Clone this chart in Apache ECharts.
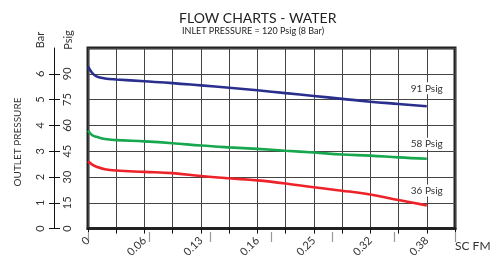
<!DOCTYPE html>
<html>
<head>
<meta charset="utf-8">
<script src="https://cdn.jsdelivr.net/npm/echarts@6/dist/echarts.min.js"></script>
<style>html,body{margin:0;padding:0;background:#fff}#c{width:495px;height:260px}</style>
</head>
<body>
<div id="c"></div>
<script>
// Flow positions along the x scale (grid steps); labelled every 2 steps
const xPositions = [0, 0.15, 0.3, 0.6, 1, 2, 3, 4, 5, 6, 7, 8, 9, 10, 11, 12];
const xTickLabels = ['0', '0.06', '0.13', '0.16', '0.25', '0.32', '0.38'];
// Outlet pressure in Bar
const psig91 = [6.29, 6.03, 5.90, 5.82, 5.78, 5.71, 5.64, 5.55, 5.46, 5.36, 5.25, 5.14, 5.03, 4.92, 4.83, 4.74];
const psig58 = [3.79, 3.62, 3.56, 3.47, 3.43, 3.38, 3.31, 3.22, 3.15, 3.09, 3.02, 2.95, 2.87, 2.83, 2.76, 2.71];
const psig36 = [2.61, 2.48, 2.40, 2.30, 2.25, 2.20, 2.15, 2.04, 1.95, 1.87, 1.75, 1.60, 1.47, 1.32, 1.11, 0.90];
const seriesNames = ['91 Psig', '58 Psig', '36 Psig'];

const FONT = 'Lato';
const chart = echarts.init(document.getElementById('c'));

function mk(name, vals, color, labelDist) {
  return {
    type: 'line', name: name, xAxisIndex: 0, yAxisIndex: 0,
    smooth: 0.4, showSymbol: false, lineStyle: {color: color, width: 2.6},
    data: xPositions.map((x, i) => [x, vals[i]]),
    markPoint: {
      symbol: 'rect', symbolSize: 0,
      label: {show: true, position: 'top', distance: labelDist, formatter: name,
        color: '#333', fontFamily: FONT, fontSize: 10, backgroundColor: '#fff', padding: [1, 1]},
      data: [{coord: [xPositions[xPositions.length - 1], vals[vals.length - 1]]}]
    },
    z: 5
  };
}

chart.setOption({
  animation: false,
  title: [
    {text: 'FLOW CHARTS - WATER', left: 179, top: 11, padding: 0,
      textStyle: {fontFamily: FONT, fontSize: 14, fontWeight: 'normal', color: '#222'}},
    {text: 'INLET PRESSURE = 120 Psig (8 Bar)', left: 182, top: 27, padding: 0,
      textStyle: {fontFamily: FONT, fontSize: 9, fontWeight: 'normal', color: '#222'}}
  ],
  grid: {left: 88, right: 40, top: 48, bottom: 28, show: true, borderColor: '#222', borderWidth: 3},
  xAxis: [
    // bottom axis: border, grid lines, short black ticks, labels every 2 steps
    {type: 'value', min: 0, max: 13, interval: 1,
      axisLine: {show: true, onZero: false, lineStyle: {color: '#222', width: 3}},
      axisTick: {show: true, length: 5, lineStyle: {color: '#111', width: 1}},
      axisLabel: {show: true, rotate: 45, margin: 10, fontSize: 11, color: '#333', fontFamily: FONT,
        formatter: function (v) { return (v % 2 === 0 && v <= 12) ? xTickLabels[v / 2] : ''; }},
      splitLine: {show: true, lineStyle: {color: '#444', width: 1}}},
    // top-side axis shifted down onto the bottom edge: longer grey ticks at labelled steps
    {type: 'value', min: 0, max: 12, interval: 2, offset: -184,
      axisLine: {show: false, onZero: false},
      axisTick: {show: true, inside: true, length: 10, lineStyle: {color: '#999', width: 1.2}},
      axisLabel: {show: false},
      splitLine: {show: false}}
  ],
  yAxis: [
    {type: 'value', min: 0, max: 7, interval: 1, offset: 34,
      axisLine: {show: true, onZero: false, lineStyle: {color: '#111', width: 1}},
      axisTick: {show: true, length: 5, lineStyle: {color: '#111', width: 1}},
      axisLabel: {show: true, rotate: 90, margin: 8, fontSize: 11, color: '#333', fontFamily: FONT, showMaxLabel: false},
      splitLine: {show: true, lineStyle: {color: '#444', width: 1}}},
    // right-side axis shifted across to the left axis line: Psig scale
    {type: 'value', min: 0, max: 105, interval: 15, offset: -401,
      axisLine: {show: false, onZero: false},
      axisTick: {show: true, length: 6, lineStyle: {color: '#111', width: 1}},
      axisLabel: {show: true, rotate: 90, margin: 8, fontSize: 11, color: '#333', fontFamily: FONT, showMaxLabel: false},
      splitLine: {show: false}}
  ],
  graphic: [
    {type: 'text', x: 18, y: 142, rotation: Math.PI / 2,
      style: {text: 'OUTLET PRESSURE', fontFamily: FONT, fontSize: 10, fill: '#333', align: 'center', verticalAlign: 'middle'}},
    {type: 'text', x: 40, y: 40, rotation: Math.PI / 2,
      style: {text: 'Bar', fontFamily: FONT, fontSize: 11, fill: '#333', align: 'center', verticalAlign: 'middle'}},
    {type: 'text', x: 68, y: 40, rotation: Math.PI / 2,
      style: {text: 'Psig', fontFamily: FONT, fontSize: 11, fill: '#333', align: 'center', verticalAlign: 'middle'}},
    {type: 'text', x: 455, y: 246,
      style: {text: 'SC FM', fontFamily: FONT, fontSize: 12, fill: '#333', align: 'left', verticalAlign: 'middle'}}
  ],
  series: [
    mk(seriesNames[0], psig91, '#2a2f8e', 12),
    mk(seriesNames[1], psig58, '#17a74f', 9),
    mk(seriesNames[2], psig36, '#ee2229', 9)
  ]
});
</script>
</body>
</html>
